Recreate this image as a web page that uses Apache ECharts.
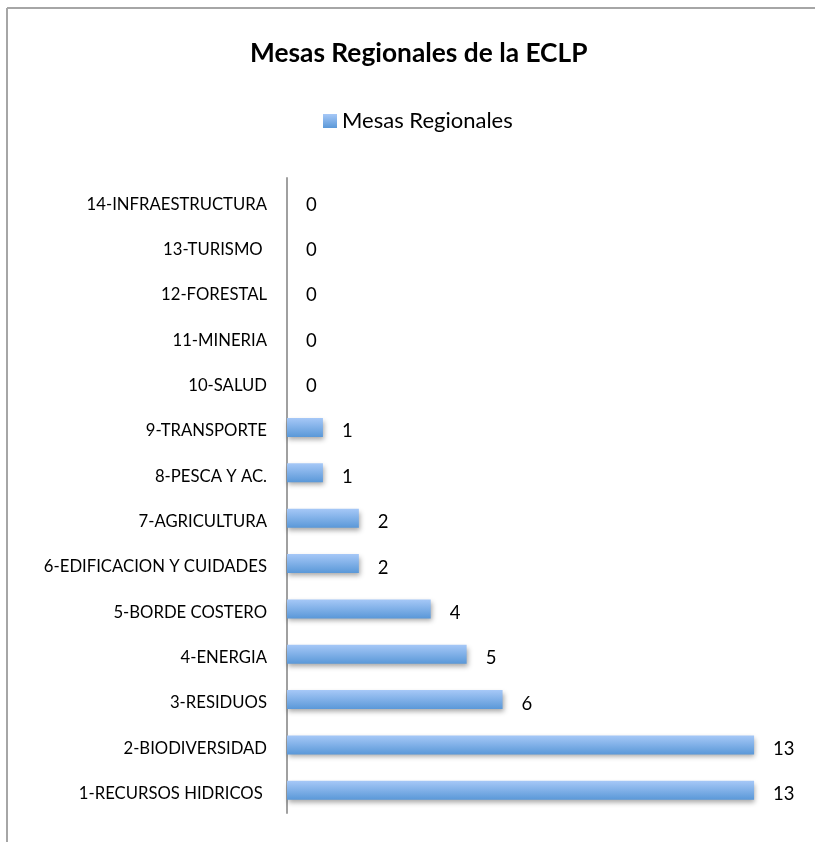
<!DOCTYPE html>
<html><head><meta charset="utf-8">
<script src="https://cdn.jsdelivr.net/npm/echarts@6/dist/echarts.min.js"></script>
<style>html,body{margin:0;padding:0;background:#fff;overflow:hidden}#c{width:815px;height:842px}</style>
</head><body><div id="c"></div>
<script>
const titleText = 'Mesas Regionales de la ECLP';
const seriesName = 'Mesas Regionales';
const categories = ['1-RECURSOS HIDRICOS ','2-BIODIVERSIDAD','3-RESIDUOS','4-ENERGIA','5-BORDE COSTERO','6-EDIFICACION Y CUIDADES','7-AGRICULTURA','8-PESCA Y AC.','9-TRANSPORTE','10-SALUD','11-MINERIA','12-FORESTAL','13-TURISMO ','14-INFRAESTRUCTURA'];
const values = [13,13,6,5,4,2,2,1,1,0,0,0,0,0];

const FONT = 'Lato';
const chart = echarts.init(document.getElementById('c'));
chart.setOption({
  backgroundColor:'#fff',
  animation:false,
  graphic:[
    {type:'line',shape:{x1:7,y1:8,x2:900,y2:8},style:{stroke:'#a6a6a6',lineWidth:2},silent:true},
    {type:'line',shape:{x1:7,y1:8,x2:7,y2:900},style:{stroke:'#a6a6a6',lineWidth:2},silent:true}
  ],
  title:{text:titleText,left:245,top:36,textStyle:{fontFamily:FONT,fontWeight:'bold',fontSize:26.3,color:'#000'}},
  legend:{data:[{name:seriesName,icon:'rect'}],top:105,left:318,itemWidth:14,itemHeight:14,itemGap:5,
    textStyle:{fontFamily:FONT,fontSize:22,color:'#000'}},
  grid:{left:287,top:178,right:25,bottom:29,containLabel:false},
  xAxis:{type:'value',min:0,max:14,show:false},
  yAxis:{type:'category',data:categories,
    axisLine:{show:true,lineStyle:{color:'#a0a0a0',width:2}},
    axisTick:{show:false},
    axisLabel:{fontFamily:FONT,fontSize:16.7,color:'#000',margin:20,verticalAlign:'top',lineHeight:7}},
  series:[{name:seriesName,type:'bar',data:values,barWidth:19,
    itemStyle:{color:new echarts.graphic.LinearGradient(0,0,0,1,[{offset:0,color:'#a6c8f7'},{offset:1,color:'#5a98d8'}]),
      shadowColor:'rgba(0,0,0,0.35)',shadowBlur:5,shadowOffsetY:3,shadowOffsetX:1},
    label:{show:true,position:'right',distance:19,offset:[0,4],fontFamily:FONT,fontSize:18.5,color:'#000'}}]
});
</script></body></html>
